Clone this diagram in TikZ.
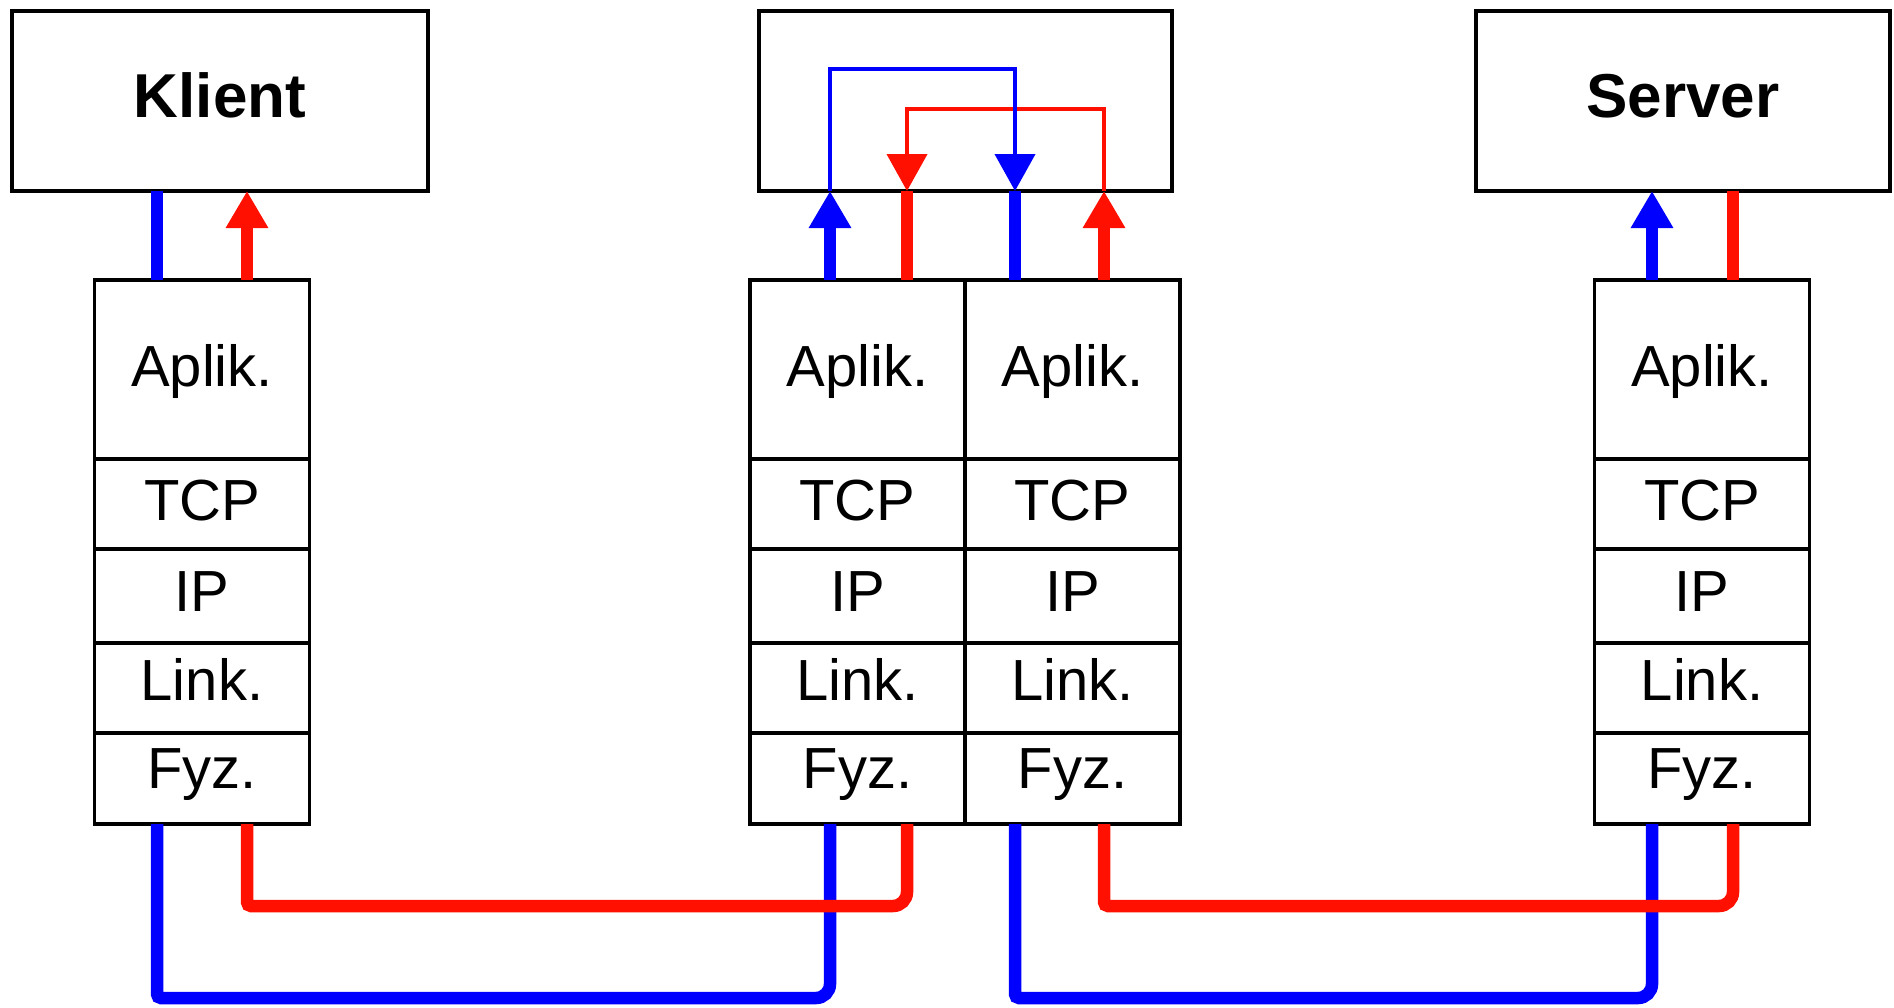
\documentclass[tikz,border=0pt]{standalone}
\usepackage{fontspec}
\setmainfont{Liberation Sans}
\usetikzlibrary{arrows.meta}
\definecolor{lblue}{RGB}{0,0,255}
\definecolor{lred}{RGB}{255,16,0}
\tikzset{
  box/.style={draw, line width=3.5pt, inner sep=0pt, outer sep=0pt, fill=white},
  cell/.style={box, minimum width=215pt, font=\fontsize{58}{58}\selectfont, text depth=0pt},
  host/.style={box, minimum height=180pt, font=\bfseries\fontsize{62}{62}\selectfont, text height=32pt, text depth=0pt},
  bthick/.style={draw=lblue, line width=12.5pt},
  rthick/.style={draw=lred, line width=12.5pt},
  bthin/.style={draw=lblue, line width=4pt},
  rthin/.style={draw=lred, line width=4pt},
  arr/.style={-{Triangle[width=40pt,length=37pt]}},
}
\newcommand{\mystack}[2]{%
  \node[cell, minimum height=179pt, text height=33pt] (#1apl) at (#2,369.5) {Aplik.};
  \node[cell, minimum height=90pt, text height=32pt] (#1tcp) at (#2,504) {TCP};
  \node[cell, minimum height=94pt, text height=30pt] (#1ip) at (#2,596) {IP};
  \node[cell, minimum height=90pt, text height=24pt] (#1lnk) at (#2,688) {Link.};
  \node[cell, minimum height=91pt, text height=19pt] (#1fyz) at (#2,778.5) {Fyz.};
}
\begin{document}
\begin{tikzpicture}[x=1pt, y=-1pt]
\useasboundingbox (0,0) rectangle (1894,1007);
% hosts
\node[host, minimum width=416pt] (klient) at (220,101) {Klient};
\node[host, minimum width=413pt] (mid) at (965.5,101) {};
\node[host, minimum width=414pt] (server) at (1683,101) {Server};
% stacks
\mystack{k}{202}
\mystack{ml}{857.5}
\mystack{mr}{1072.5}
\mystack{s}{1702}
% reference coordinates for line positions
\coordinate (kb) at (157,0);
\coordinate (kr) at (247,0);
\coordinate (mb1) at (830,0);
\coordinate (mr1) at (907,0);
\coordinate (mb2) at (1015,0);
\coordinate (mr2) at (1104,0);
\coordinate (sb) at (1652,0);
\coordinate (sr) at (1733,0);
\coordinate (btop) at (0,69);
\coordinate (rtop) at (0,109);
\coordinate (rlow) at (0,906);
\coordinate (blow) at (0,998);
% red relay inside the middle box (below the blue one)
\draw[rthin, arr] (mr2 |- mid.south) -- (mr2 |- rtop) -- (mr1 |- rtop) -- (mr1 |- mid.south);
% blue connectors
\draw[bthick] (kb |- kapl.north) -- (kb |- klient.south);
\draw[bthick, arr] (mb1 |- mlapl.north) -- (mb1 |- mid.south);
\draw[bthin, arr] (mb1 |- mid.south) -- (mb1 |- btop) -- (mb2 |- btop) -- (mb2 |- mid.south);
\draw[bthick] (mb2 |- mid.south) -- (mb2 |- mrapl.north);
\draw[bthick, arr] (sb |- sapl.north) -- (sb |- server.south);
\draw[bthick] (kb |- kfyz.south) [rounded corners=4pt] -- (kb |- blow) [rounded corners=14pt] -- (mb1 |- blow) -- (mb1 |- mlfyz.south);
\draw[bthick] (mb2 |- mrfyz.south) [rounded corners=4pt] -- (mb2 |- blow) [rounded corners=14pt] -- (sb |- blow) -- (sb |- sfyz.south);
% red connectors
\draw[rthick, arr] (kr |- kapl.north) -- (kr |- klient.south);
\draw[rthick] (mr1 |- mid.south) -- (mr1 |- mlapl.north);
\draw[rthick, arr] (mr2 |- mrapl.north) -- (mr2 |- mid.south);
\draw[rthick] (sr |- server.south) -- (sr |- sapl.north);
\draw[rthick] (kr |- kfyz.south) [rounded corners=4pt] -- (kr |- rlow) [rounded corners=14pt] -- (mr1 |- rlow) -- (mr1 |- mlfyz.south);
\draw[rthick] (mr2 |- mrfyz.south) [rounded corners=4pt] -- (mr2 |- rlow) [rounded corners=14pt] -- (sr |- rlow) -- (sr |- sfyz.south);
\end{tikzpicture}
\end{document}
